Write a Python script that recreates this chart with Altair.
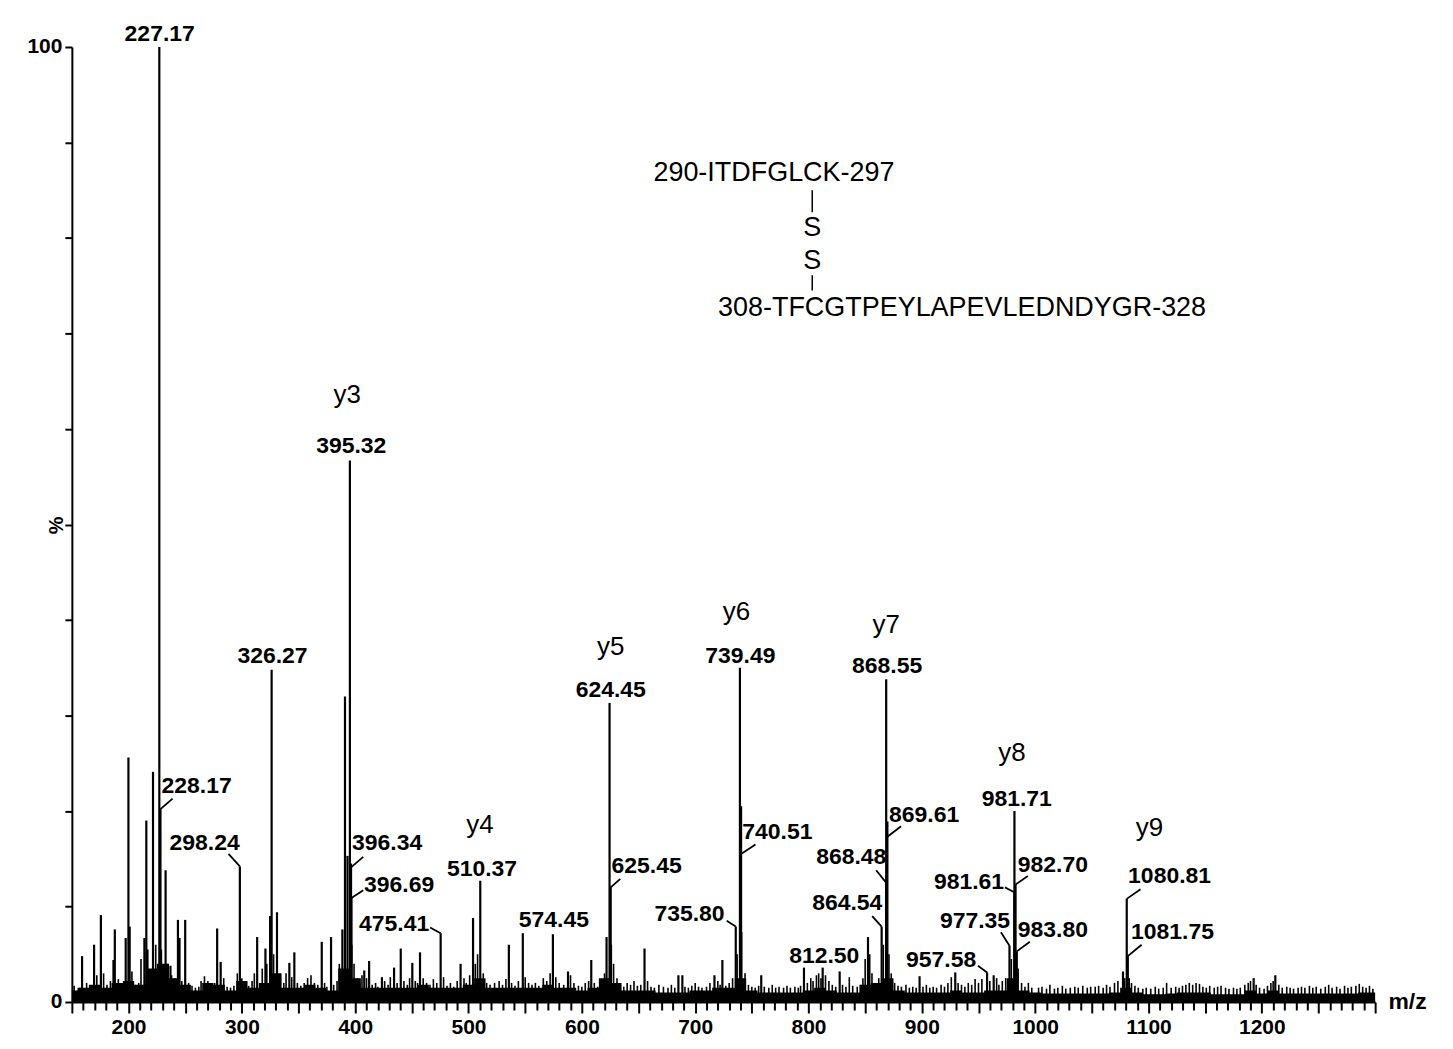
import altair as alt
import pandas as pd

FONT = "Liberation Sans"

# ---- major peaks (m/z, relative intensity %) ----
peak_mz = [159.0, 169.6, 175.6, 186.7, 187.9, 197.5, 199.9, 201.0, 214.0, 215.7,
           221.6, 227.17, 228.17, 232.7, 237.0, 243.6, 245.0, 250.0, 278.2, 281.3,
           298.24, 313.5, 320.8, 324.9, 326.27, 331.0, 341.9, 346.3, 370.5, 378.7,
           388.7, 391.0, 393.2, 395.32, 396.34, 396.69, 408.0, 412.3, 423.6, 434.3,
           440.2, 450.4, 457.2, 475.41, 493.0, 504.0, 510.37, 535.6, 547.9, 574.45,
           587.8, 608.3, 621.8, 624.45, 625.45, 655.3, 685.2, 688.7, 717.0, 724.0,
           735.80, 739.49, 740.51, 758.3, 796.0, 812.50, 827.5, 852.5, 864.54, 868.48,
           868.55, 869.61, 898.0, 929.5, 957.58, 963.4, 977.35, 981.61, 981.71, 982.70,
           983.80, 1077.5, 1080.81, 1081.75, 1192.8, 1211.9]
peak_int = [4.8, 6.0, 9.1, 4.4, 7.6, 6.7, 25.6, 7.9, 6.7, 19.0,
            24.1, 100.0, 20.2, 13.8, 3.8, 8.6, 6.7, 8.6, 7.7, 4.2,
            14.2, 6.8, 5.6, 9.0, 34.8, 9.4, 4.1, 5.2, 6.3, 6.8,
            7.6, 32.0, 15.3, 56.7, 14.5, 10.9, 3.3, 4.3, 2.6, 3.6,
            5.6, 4.1, 5.2, 7.2, 4.0, 8.8, 12.7, 6.0, 7.2, 7.1,
            3.2, 4.4, 6.8, 31.3, 12.0, 5.6, 2.8, 2.8, 2.8, 4.4,
            7.9, 35.0, 20.5, 2.8, 3.6, 3.6, 3.2, 6.8, 7.9, 12.5,
            33.8, 18.9, 2.7, 3.1, 3.1, 2.8, 5.9, 11.5, 20.0, 12.3,
            5.3, 3.2, 10.8, 4.8, 2.5, 2.8]

# ---- small spikes in the baseline ----
minor_mz = [152, 155, 157, 163, 166, 172, 178, 181, 184, 191, 194, 203, 206, 209, 211, 217, 219, 224, 229, 235,
            238, 241, 247, 253, 256, 259, 262, 264, 267, 270, 273, 276, 284, 287, 290, 293, 296, 300, 303, 306,
            309, 311, 316, 318, 322, 328, 334, 337, 339, 344, 349, 352, 355, 358, 361, 364, 367, 373, 375, 381,
            384, 386, 397, 399, 402, 404, 406, 410, 415, 418, 420, 426, 429, 431, 437, 443, 446, 448, 453, 455,
            460, 463, 466, 469, 472, 478, 481, 484, 487, 490, 496, 498, 501, 506, 508, 513, 516, 519, 523, 527,
            530, 533, 538, 541, 544, 550, 553, 556, 559, 562, 566, 569, 572, 577, 580, 584, 590, 593, 597, 600,
            603, 606, 611, 614, 618, 620, 626, 628, 631, 634, 637, 640, 643, 646, 649, 652, 658, 661, 664, 668,
            672, 676, 679, 682, 691, 694, 697, 700, 703, 706, 710, 713, 720, 722, 727, 730, 733, 737, 741, 744,
            747, 750, 753, 756, 761, 765, 768, 771, 774, 778, 781, 784, 788, 791, 793, 799, 802, 804, 807, 809,
            811, 815, 818, 821, 824, 830, 833, 836, 839, 843, 846, 848, 850, 854, 856, 859, 862, 866, 871, 873,
            876, 879, 882, 886, 889, 892, 895, 901, 904, 907, 910, 913, 917, 920, 923, 926, 932, 935, 938, 941,
            944, 947, 950, 953, 960, 966, 968, 971, 974, 979, 985, 988, 991, 994, 997, 1003, 1006, 1010, 1013, 1017,
            1020, 1024, 1027, 1031, 1035, 1038, 1042, 1046, 1049, 1053, 1056, 1060, 1063, 1066, 1070, 1073, 1079, 1083, 1085, 1088,
            1091, 1095, 1098, 1102, 1106, 1109, 1113, 1116, 1120, 1124, 1127, 1130, 1133, 1136, 1139, 1142, 1145, 1148, 1151, 1154,
            1158, 1161, 1164, 1168, 1171, 1175, 1178, 1181, 1185, 1188, 1190, 1195, 1198, 1202, 1205, 1208, 1210, 1215, 1218, 1222,
            1225, 1228, 1232, 1235, 1238, 1242, 1245, 1248, 1252, 1256, 1259, 1262, 1266, 1269, 1273, 1276, 1279, 1283, 1286, 1289,
            1292, 1295, 1298]
minor_int = [1.7, 1.2, 1.5, 2.0, 1.6, 2.8, 3.0, 1.8, 2.2, 2.4, 1.8, 3.2, 1.8, 2.0, 4.5, 5.5, 3.0, 6.0, 5.5, 4.0,
             2.8, 2.5, 2.2, 2.0, 1.7, 1.5, 1.6, 2.2, 2.7, 2.2, 1.8, 2.0, 2.5, 1.6, 1.5, 1.7, 3.0, 2.5, 1.8, 1.7,
             2.2, 3.0, 2.0, 3.5, 4.0, 5.0, 2.5, 2.0, 3.0, 2.6, 2.0, 1.7, 2.0, 2.5, 2.8, 2.0, 1.8, 2.0, 1.6, 1.8,
             2.2, 4.0, 6.0, 4.0, 2.5, 2.0, 2.8, 2.5, 1.8, 2.0, 1.6, 2.2, 1.8, 2.6, 2.0, 2.2, 1.8, 2.5, 2.2, 2.0,
             2.5, 2.0, 1.8, 2.4, 2.0, 2.6, 1.7, 2.0, 1.6, 2.2, 2.5, 2.0, 2.8, 4.0, 5.0, 3.0, 2.0, 1.8, 2.0, 2.2,
             1.8, 2.4, 2.0, 1.7, 2.2, 2.6, 2.0, 1.8, 2.0, 1.7, 2.5, 2.2, 3.0, 2.6, 2.0, 1.8, 2.8, 2.0, 1.7, 1.6,
             2.0, 2.2, 2.0, 1.6, 2.0, 3.0, 6.0, 4.0, 2.5, 1.8, 1.6, 2.0, 1.8, 2.2, 1.7, 1.8, 2.2, 1.6, 1.5, 1.8,
             1.6, 1.5, 1.8, 1.5, 1.6, 1.5, 1.7, 2.0, 1.6, 1.5, 1.6, 2.0, 2.2, 1.8, 1.7, 2.0, 2.5, 5.0, 7.3, 3.0,
             1.8, 1.6, 1.5, 1.7, 1.6, 1.5, 1.8, 1.5, 1.6, 1.5, 1.7, 1.5, 1.6, 1.5, 1.7, 2.0, 2.5, 2.2, 2.8, 3.0,
             2.5, 2.8, 2.2, 1.8, 1.6, 1.8, 1.6, 2.6, 1.7, 1.6, 1.8, 2.5, 4.5, 5.0, 3.0, 2.0, 2.5, 6.0, 5.0, 3.0,
             2.0, 1.7, 1.6, 1.8, 1.5, 1.6, 1.5, 1.6, 1.8, 1.5, 1.6, 1.5, 1.8, 1.6, 2.0, 2.6, 2.0, 1.8, 1.6, 2.0,
             1.8, 2.4, 2.0, 2.4, 2.2, 2.5, 1.8, 2.2, 2.5, 4.5, 3.5, 2.0, 1.6, 2.0, 1.5, 1.5, 1.6, 1.4, 1.8, 1.4,
             1.5, 1.7, 1.4, 1.5, 1.6, 1.5, 1.7, 1.5, 1.6, 1.6, 1.7, 1.5, 1.8, 1.6, 2.0, 2.2, 2.5, 2.5, 2.0, 1.7,
             1.5, 1.4, 1.5, 1.4, 1.6, 1.4, 1.5, 2.0, 1.5, 1.6, 1.5, 1.7, 1.8, 2.0, 1.8, 2.0, 1.9, 1.6, 1.5, 1.7,
             1.5, 1.6, 1.7, 1.5, 1.4, 1.5, 1.4, 1.5, 1.8, 2.0, 2.2, 1.8, 1.5, 1.4, 1.7, 2.0, 2.2, 1.8, 1.5, 1.6,
             1.5, 1.4, 1.5, 1.6, 1.5, 1.7, 1.5, 1.6, 1.4, 1.6, 1.8, 1.5, 1.6, 1.4, 1.7, 1.5, 1.6, 1.7, 1.9, 1.6,
             1.5, 1.7, 1.4]

# ---- continuous noise floor (every 10 m/z) ----
floor_mz = [150, 160, 170, 180, 190, 200, 210, 220, 230, 240, 250, 260, 270, 280, 290, 300, 310, 320, 330, 340,
            350, 360, 370, 380, 390, 400, 410, 420, 430, 440, 450, 460, 470, 480, 490, 500, 510, 520, 530, 540,
            550, 560, 570, 580, 590, 600, 610, 620, 630, 640, 650, 660, 670, 680, 690, 700, 710, 720, 730, 740,
            750, 760, 770, 780, 790, 800, 810, 820, 830, 840, 850, 860, 870, 880, 890, 900, 910, 920, 930, 940,
            950, 960, 970, 980, 990, 1000, 1010, 1020, 1030, 1040, 1050, 1060, 1070, 1080, 1090, 1100, 1110, 1120, 1130, 1140,
            1150, 1160, 1170, 1180, 1190, 1200, 1210, 1220, 1230, 1240, 1250, 1260, 1270, 1280, 1290, 1300]
floor_int = [1.2, 1.5, 1.8, 1.5, 2.0, 2.2, 1.8, 3.5, 4.0, 2.5, 1.8, 1.2, 2.0, 1.8, 1.2, 2.2, 1.5, 2.0, 3.0, 1.5,
             1.5, 1.8, 1.5, 1.2, 3.5, 2.5, 1.5, 1.5, 1.5, 1.5, 1.5, 1.8, 1.5, 1.5, 1.5, 1.8, 2.5, 1.5, 1.5, 1.5,
             1.5, 1.5, 1.8, 1.5, 1.5, 1.2, 1.5, 2.5, 2.0, 1.2, 1.2, 1.2, 1.0, 1.0, 1.0, 1.2, 1.2, 1.5, 1.5, 2.5,
             1.2, 1.0, 1.0, 1.0, 1.0, 1.2, 1.5, 1.2, 1.0, 1.0, 1.8, 2.0, 2.5, 1.2, 1.0, 1.0, 1.0, 1.0, 1.2, 1.0,
             1.0, 1.2, 1.2, 2.5, 1.2, 1.0, 0.9, 0.9, 0.9, 0.9, 0.9, 0.9, 1.0, 1.5, 1.0, 0.8, 0.8, 0.9, 1.0, 1.0,
             1.0, 0.8, 0.8, 0.8, 1.2, 0.9, 1.2, 0.9, 0.9, 0.9, 0.9, 0.9, 0.9, 0.9, 1.0, 1.0]

# ---- peak value labels ----
lab_text = ["227.17", "228.17", "298.24", "326.27", "395.32", "396.34", "396.69", "475.41", "510.37", "574.45",
            "624.45", "625.45", "739.49", "740.51", "735.80", "868.55", "869.61", "868.48", "864.54", "812.50",
            "981.71", "982.70", "981.61", "977.35", "957.58", "983.80", "1080.81", "1081.75"]
lab_x = [227.5, 260.1, 267.1, 327.0, 396.5, 428.2, 438.8, 434.4, 511.9, 575.3,
         625.5, 657.2, 739.9, 772.5, 695.0, 869.4, 902.0, 837.7, 834.2, 813.9,
         983.8, 1015.6, 941.6, 946.9, 917.0, 1015.6, 1118.6, 1121.2]
lab_y = [101.4, 22.6, 16.7, 36.2, 58.2, 16.7, 12.3, 8.2, 13.9, 8.6,
         32.7, 14.2, 36.2, 17.8, 9.2, 35.2, 19.6, 15.2, 10.4, 4.8,
         21.3, 14.3, 12.6, 8.5, 4.4, 7.5, 13.2, 7.3]

# ---- leader lines from labels to peaks ----
lead_x1 = [238.9, 288.2, 407.1, 407.1, 466.1, 633.9, 753.2, 727.8, 881.7, 859.7, 856.2, 973.3, 993.5, 969.8, 949.5, 995.3, 1093.0, 1093.9]
lead_y1 = [21.3, 15.5, 15.2, 11.7, 7.8, 12.9, 16.5, 8.5, 18.4, 13.8, 9.0, 12.0, 13.2, 7.3, 3.8, 6.3, 11.8, 6.0]
lead_x2 = [228.17, 298.24, 396.34, 396.69, 475.41, 625.45, 740.51, 735.80, 869.61, 868.48, 864.54, 981.61, 982.70, 977.35, 957.58, 983.80, 1080.81, 1081.75]
lead_y2 = [20.2, 14.2, 14.1, 10.9, 7.2, 12.0, 15.5, 7.9, 17.3, 12.5, 7.9, 11.5, 12.3, 5.9, 3.1, 5.3, 10.8, 4.8]

# ---- fragment ion labels ----
ion_text = ["y3", "y4", "y5", "y6", "y7", "y8", "y9"]
ion_x = [393.0, 510.1, 625.5, 736.4, 868.5, 979.5, 1100.9]
ion_y = [63.6, 18.5, 37.2, 40.8, 39.5, 26.1, 18.2]

# ---- peptide structure annotation ----
pep_text = ["290-ITDFGLCK-297", "S", "S", "308-TFCGTPEYLAPEVLEDNDYGR-328"]
pep_x = [769.5, 803.3, 803.3, 935.5]
pep_y = [86.8, 81.0, 77.6, 72.7]
bond_x = [803.3, 803.3]
bond_y1 = [85.0, 76.1]
bond_y2 = [82.7, 74.5]

# ---------------------------------------------------------------
peaks = pd.DataFrame({"mz": peak_mz, "pct": peak_int})
minor = pd.DataFrame({"mz": minor_mz, "pct": minor_int})
floor = pd.DataFrame({"mz": floor_mz, "pct": floor_int})
labels = pd.DataFrame({"mz": lab_x, "pct": lab_y, "t": lab_text})
leaders = pd.DataFrame({"mz": lead_x1, "pct": lead_y1, "mz2": lead_x2, "pct2": lead_y2})
ions = pd.DataFrame({"mz": ion_x, "pct": ion_y, "t": ion_text})
pep = pd.DataFrame({"mz": pep_x, "pct": pep_y, "t": pep_text})
bonds = pd.DataFrame({"mz": bond_x, "pct": bond_y1, "pct2": bond_y2})

xscale = alt.Scale(domain=[150, 1300], nice=False, zero=False)
yscale = alt.Scale(domain=[0, 100], nice=False)

x_axis = alt.Axis(
    values=list(range(150, 1301, 10)),
    labelExpr="datum.value % 100 === 0 && datum.value < 1300 ? datum.label : ''",
    format="d",
    grid=False,
    domainColor="black", domainWidth=2,
    tickColor="black", tickWidth=2,
    tickSize={"condition": {"test": "datum.value % 50 === 0", "value": 11}, "value": 8},
    labelFont=FONT, labelFontSize=21, labelFontWeight="bold", labelColor="black",
    labelPadding=4, labelFlush=False, labelOverlap=False,
    title="m/z", titleFont=FONT, titleFontSize=23, titleFontWeight="bold", titleColor="black",
    titleX=1338, titleY=0, titleAlign="center", titleBaseline="middle", titleAngle=0,
)
y_axis = alt.Axis(
    values=list(range(0, 101, 10)),
    labelExpr="datum.value === 0 || datum.value === 100 ? datum.label : ''",
    grid=False,
    domainColor="black", domainWidth=2,
    tickColor="black", tickWidth=2, tickSize=7,
    labelFont=FONT, labelFontSize=21, labelFontWeight="bold", labelColor="black",
    labelPadding=3, labelOverlap=False,
    title="%", titleFont=FONT, titleFontSize=20, titleFontWeight="bold", titleColor="black",
    titleX=-15, titleY=479, titleAngle=270, titleAlign="center", titleBaseline="middle",
)

X = alt.X("mz:Q", scale=xscale, axis=x_axis)
Y = alt.Y("pct:Q", scale=yscale, axis=y_axis)

floor_layer = alt.Chart(floor).mark_area(color="black", opacity=1, interpolate="step").encode(x=X, y=Y)
minor_layer = alt.Chart(minor).mark_rule(color="black", strokeWidth=1.6).encode(x=X, y=Y, y2=alt.datum(0))
peak_layer = alt.Chart(peaks).mark_rule(color="black", strokeWidth=2.2).encode(x=X, y=Y, y2=alt.datum(0))
leader_layer = alt.Chart(leaders).mark_rule(color="black", strokeWidth=1.8).encode(
    x=X, y=Y, x2="mz2:Q", y2="pct2:Q")
label_layer = alt.Chart(labels).mark_text(
    font=FONT, fontSize=23, fontWeight="bold", color="black", align="center", baseline="middle"
).encode(x=X, y=Y, text="t:N")
ion_layer = alt.Chart(ions).mark_text(
    font=FONT, fontSize=26, color="black", align="center", baseline="middle"
).encode(x=X, y=Y, text="t:N")
pep_layer = alt.Chart(pep).mark_text(
    font=FONT, fontSize=27, color="black", align="center", baseline="middle"
).encode(x=X, y=Y, text="t:N")
bond_layer = alt.Chart(bonds).mark_rule(color="black", strokeWidth=1.5).encode(x=X, y=Y, y2="pct2:Q")

chart = alt.layer(
    floor_layer, minor_layer, peak_layer, leader_layer, label_layer, ion_layer, pep_layer, bond_layer
).properties(
    width=1306, height=957,
    autosize=alt.AutoSizeParams(type="none"),
    padding={"left": 64, "top": 38, "right": 70, "bottom": 40},
    background="white",
).configure(font=FONT).configure_view(strokeWidth=0, stroke="transparent")

chart.save("out.html", embed_options={"renderer": "svg", "actions": False})
